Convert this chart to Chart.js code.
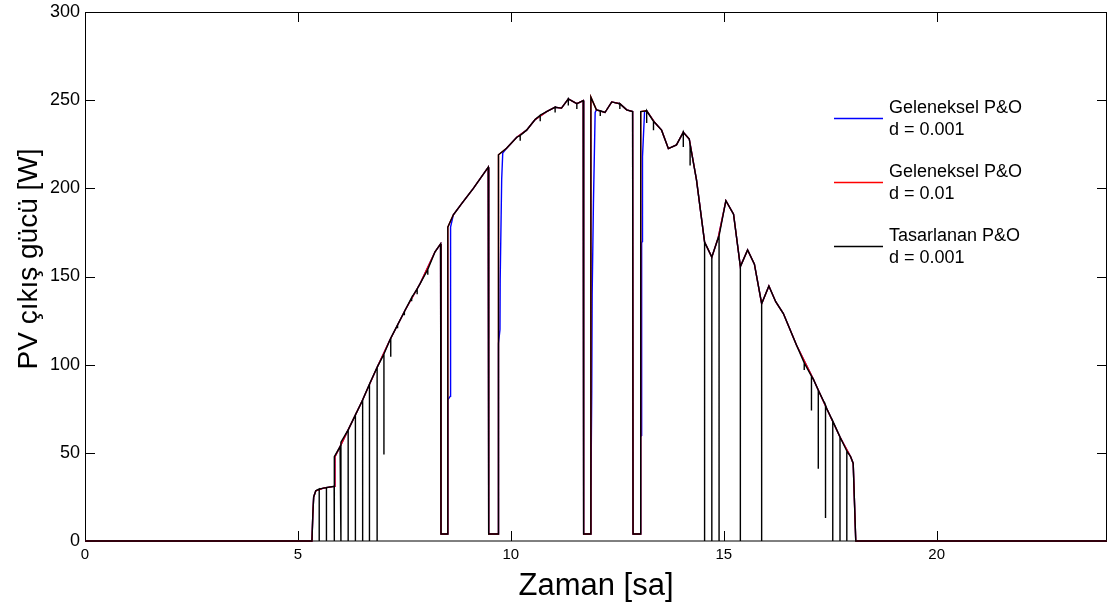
<!DOCTYPE html>
<html><head><meta charset="utf-8">
<script src="https://cdn.jsdelivr.net/npm/chart.js@4.4.0/dist/chart.umd.min.js"></script>
<style>html,body{margin:0;padding:0;background:#fff;overflow:hidden}canvas{display:block}</style>
</head><body>
<canvas id="c" width="1110" height="608"></canvas>
<script>
// ---- data ----
// common envelope of the PV output power (hours, W)
const envHours = [0, 5.33, 5.35, 5.37, 5.42, 5.6, 5.85, 5.87, 5.99, 6.18, 6.5, 6.85, 7.16, 7.52, 7.87, 8.22, 8.35,
  8.36, 8.51, 8.52, 8.65, 8.85, 9.12, 9.47, 9.48, 9.70, 9.71, 9.9, 10.14, 10.37, 10.57, 10.84, 11.04, 11.19, 11.35, 11.55, 11.70,
  11.71, 11.87, 11.88, 12.01, 12.21, 12.37, 12.56, 12.72, 12.86, 12.87, 13.04, 13.05, 13.19, 13.39, 13.54, 13.70, 13.89, 14.05, 14.19,
  14.36, 14.55, 14.72, 14.87, 15.05, 15.23, 15.39, 15.56, 15.72, 15.89, 16.06, 16.22, 16.4, 16.71, 17.1, 17.42, 17.73, 17.98, 18.04, 18.10, 24];
const envPower = [0, 0, 15, 25, 28.5, 30, 31, 47.8, 53.5, 63, 79, 98, 114, 131, 146, 164, 168.5,
  4, 4, 178, 185, 191.5, 200, 212, 4, 4, 219, 222.7, 229, 233, 239, 243.5, 246, 245.5, 250.7, 248, 249.8,
  4, 4, 251.7, 244.5, 243, 249, 248, 244.5, 243.5, 4, 4, 243.5, 244, 237, 233, 222.5, 224.6, 231.8, 228,
  204.8, 169.5, 161, 172, 193, 185.3, 155.6, 165, 157, 134.6, 144.6, 135.7, 129, 111, 92, 75, 59, 47.8, 44, 0, 0];

// drops of the proposed (Tasarlanan) P&O trace: hour, value before drop, value at bottom
const spikeHours = [5.50, 5.67, 5.85, 6.01, 6.18, 6.35, 6.52, 6.68, 6.86, 7.02, 7.18, 7.34, 7.50, 7.67, 7.80, 8.05,
  10.22, 10.69, 11.04, 11.35, 11.55, 12.10, 12.56, 13.19, 13.35, 14.05, 14.21,
  14.55, 14.72, 14.89, 15.39, 15.89, 16.89, 17.06, 17.22, 17.39, 17.56, 17.73, 17.89];
const spikeTop = [29.5, 30.3, 31, 56, 63, 71.5, 80, 89, 98.5, 106, 115, 122.5, 130, 138, 143, 154,
  230, 241.5, 246, 250.7, 248, 244, 248, 244, 238, 231.8, 225,
  169.5, 161, 173, 155.6, 134.6, 101, 93.5, 85.5, 77, 68, 59, 51];
const spikeLow = [0, 0, 0, 0, 0, 0, 0, 0, 0, 49, 104.5, 120.6, 128, 136, 140, 151,
  227, 238, 243, 247, 245, 241, 245, 237, 233, 223.5, 213,
  0, 0, 0, 0, 0, 97, 74, 41, 13, 0, 0, 0];

// slower recovery of the conventional P&O with d = 0.001 after each drop
const blueHours = [8.52, 8.575, 8.58, 8.59, 9.71, 9.745, 9.75, 9.785, 9.81, 11.88, 11.90, 11.91, 11.94, 11.98, 13.05, 13.07, 13.072, 13.09, 13.092, 13.14];
const bluePower = [80, 82, 135, 178, 112, 120, 148, 205, 220, 25, 85, 140, 192, 243, 59, 60, 169, 170, 218, 243.5];
const blueWindows = [[8.515, 8.60], [9.705, 9.81], [11.875, 11.98], [13.045, 13.14]];

const xTicks = [0, 5, 10, 15, 20];
const yTicks = [0, 50, 100, 150, 200, 250, 300];
const legendText = [['Geleneksel P&O', 'd = 0.001'], ['Geleneksel P&O', 'd = 0.01'], ['Tasarlanan P&O', 'd = 0.001']];
const seriesColors = ['#0000ff', '#ff0000', '#000000'];
const xTitle = 'Zaman [sa]';
const yTitle = 'PV çıkış gücü [W]';

// ---- build datasets ----
const envPts = envHours.map((h, i) => ({x: h, y: envPower[i]}));
const redData = envPts.slice();
const inWin = h => blueWindows.some(w => h >= w[0] && h <= w[1]);
const blueData = envPts.filter(p => !inWin(p.x)).concat(blueHours.map((h, i) => ({x: h, y: bluePower[i]})))
  .map((p, i) => ({p, i})).sort((a, b) => a.p.x - b.p.x || a.i - b.i).map(o => o.p);
let blackData = [];
{
  const items = envPts.map((p, i) => ({k: p.x, o: i, pts: [p]}));
  spikeHours.forEach((h, i) => items.push({k: h, o: 1000 + i, pts: [{x: h, y: spikeTop[i]}, {x: h, y: spikeLow[i]}, {x: h, y: spikeTop[i]}]}));
  items.sort((a, b) => a.k - b.k || a.o - b.o);
  items.forEach(it => blackData = blackData.concat(it.pts));
}

const FONT = "'Liberation Sans', Arial, Helvetica, sans-serif";

const framePlugin = {
  id: 'frame',
  beforeDatasetsDraw(chart) {
    const {ctx, chartArea: a, scales} = chart;
    ctx.save();
    ctx.strokeStyle = '#000';
    ctx.lineWidth = 1;
    ctx.strokeRect(a.left + 0.5, a.top + 0.5, a.right - a.left - 1, a.bottom - a.top - 0.5);
    const L = 10;
    ctx.beginPath();
    xTicks.forEach(v => {
      const px = Math.round(scales.x.getPixelForValue(v)) + 0.5;
      ctx.moveTo(px, a.bottom); ctx.lineTo(px, a.bottom - L);
      ctx.moveTo(px, a.top); ctx.lineTo(px, a.top + L);
    });
    yTicks.forEach(v => {
      const py = Math.round(scales.y.getPixelForValue(v)) + 0.5;
      ctx.moveTo(a.left, py); ctx.lineTo(a.left + L, py);
      ctx.moveTo(a.right, py); ctx.lineTo(a.right - L, py);
    });
    ctx.stroke();
    ctx.restore();
  },
  afterDraw(chart) {
    const {ctx, chartArea: a} = chart;
    ctx.save();
    ctx.fillStyle = '#000';
    // x title
    ctx.font = '31px ' + FONT;
    ctx.textAlign = 'center';
    ctx.textBaseline = 'alphabetic';
    ctx.fillText(xTitle, (a.left + a.right) / 2, 595);
    // y title
    ctx.save();
    ctx.translate(37, 259);
    ctx.rotate(-Math.PI / 2);
    ctx.font = '28px ' + FONT;
    ctx.fillText(yTitle, 0, 0);
    ctx.restore();
    // legend
    const ys = [118, 182, 246];
    ctx.font = '18px ' + FONT;
    ctx.textAlign = 'left';
    ctx.textBaseline = 'middle';
    legendText.forEach((lines, i) => {
      ctx.strokeStyle = seriesColors[i];
      ctx.lineWidth = 1.3;
      ctx.beginPath();
      ctx.moveTo(834, ys[i] + 0.5); ctx.lineTo(883, ys[i] + 0.5);
      ctx.stroke();
      ctx.fillText(lines[0], 889, ys[i] - 10);
      ctx.fillText(lines[1], 889, ys[i] + 12);
    });
    ctx.restore();
  }
};

const ds = (label, data, color, order) => ({label, data, order, borderColor: color, backgroundColor: color, borderWidth: 1.4,
  pointRadius: 0, pointHoverRadius: 0, tension: 0, fill: false, clip: 4});

new Chart(document.getElementById('c'), {
  type: 'line',
  data: {datasets: [
    ds('Geleneksel P&O d = 0.001', blueData, seriesColors[0], 2),
    ds('Geleneksel P&O d = 0.01', redData, seriesColors[1], 1),
    ds('Tasarlanan P&O d = 0.001', blackData, seriesColors[2], 0)
  ]},
  options: {
    responsive: false, animation: false, devicePixelRatio: 1,
    layout: {padding: {left: 0, right: 3, top: 12, bottom: 0}},
    plugins: {legend: {display: false}, tooltip: {enabled: false}},
    scales: {
      x: {type: 'linear', min: 0, max: 24,
        afterBuildTicks: s => { s.ticks = xTicks.map(v => ({value: v})); },
        afterFit: s => { s.height = 67; s.paddingLeft = 0; s.paddingRight = 0; },
        grid: {display: false, drawTicks: false}, border: {display: false},
        ticks: {font: {family: FONT, size: 15}, color: '#000', padding: 5, maxRotation: 0, autoSkip: false}},
      y: {type: 'linear', min: 0, max: 300,
        afterBuildTicks: s => { s.ticks = yTicks.map(v => ({value: v})); },
        afterFit: s => { s.width = 85; s.paddingTop = 0; s.paddingBottom = 0; },
        grid: {display: false, drawTicks: false}, border: {display: false},
        ticks: {font: {family: FONT, size: 18}, color: '#000', padding: 5}}
    }
  },
  plugins: [framePlugin]
});
</script>
</body></html>
